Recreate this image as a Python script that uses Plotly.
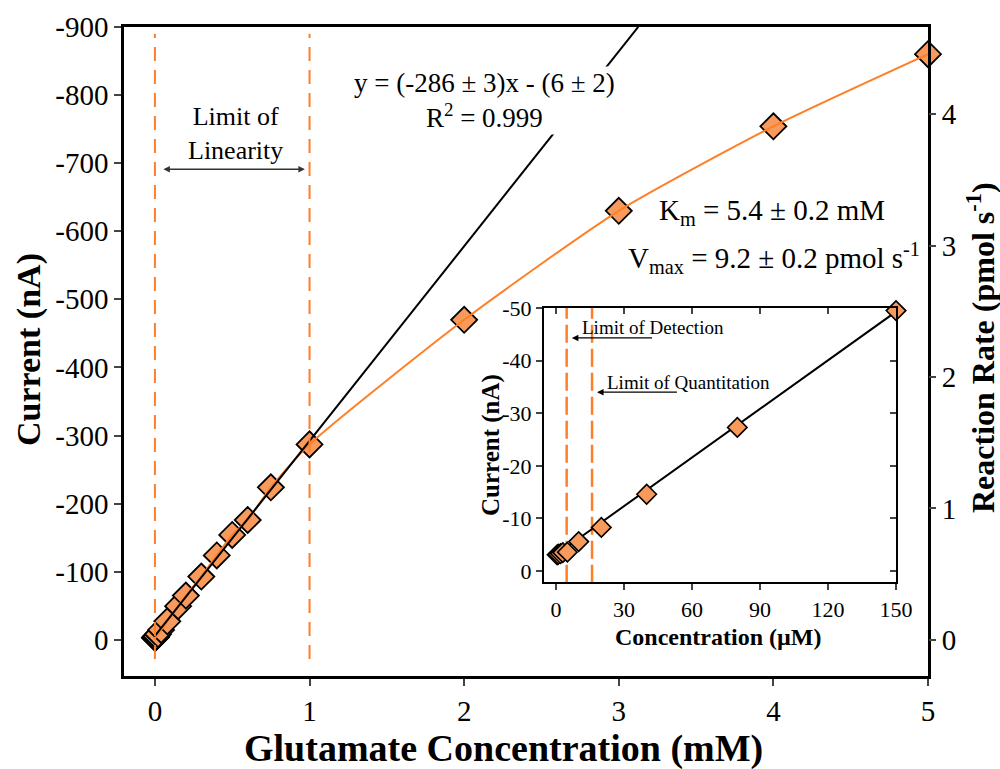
import plotly.graph_objects as go

# ---------------- data ----------------
conc_mM = [0.0005, 0.001, 0.002, 0.003, 0.005, 0.01, 0.02, 0.04, 0.08, 0.15,
           0.2, 0.3, 0.4, 0.5, 0.6, 0.75, 1, 2, 3, 4, 5]
current_nA = [-3.1, -3.2, -3.3, -3.5, -3.6, -5.6, -8.3, -14.6, -27.3, -49.5,
              -65, -93, -124, -154, -176, -224, -287, -470, -630, -754, -860]

inset_conc_uM = [0.5, 1, 2, 3, 5, 10, 20, 40, 80, 150]
inset_current_nA = [-3.1, -3.2, -3.3, -3.5, -3.6, -5.6, -8.3, -14.6, -27.3, -49.5]

lin_slope, lin_intercept = -286, -6          # main linear fit (nA per mM)
inset_slope, inset_intercept = -0.308, -3.1  # inset linear fit (nA per uM)
linearity_limits_mM = [0, 1]
lod_uM, loq_uM = 4.7, 15.9
nA_per_pmol_s = 2 * 96485 / 1000  # n F conversion

x_ticks_main = [0, 1, 2, 3, 4, 5]
y_ticks_main = [0, -100, -200, -300, -400, -500, -600, -700, -800, -900]
y2_ticks = [0, 1, 2, 3, 4]
x_ticks_inset = [0, 30, 60, 90, 120, 150]
y_ticks_inset = [0, -10, -20, -30, -40, -50]

# ---------------- style ----------------
ORANGE = "#FF7F27"
MARK = "#F79A5C"
FONT = "Liberation Serif"
main_yrange = [53, -900]
main_xrange = [-0.2, 5]
inset_xrange = [-5.3, 150]
inset_yrange = [2.1, -50]

fig = go.Figure()

fig.add_trace(go.Scatter(x=conc_mM, y=current_nA, mode="markers",
                         marker=dict(symbol="diamond", size=20, color=MARK,
                                     line=dict(color="black", width=1.8)),
                         xaxis="x", yaxis="y", showlegend=False, cliponaxis=False))
fig.add_trace(go.Scatter(x=[0] + conc_mM, y=[0] + current_nA, mode="lines",
                         line=dict(color=ORANGE, width=2, shape="spline", smoothing=0.6),
                         xaxis="x", yaxis="y", showlegend=False))
x_end = (main_yrange[1] - lin_intercept) / lin_slope
fig.add_trace(go.Scatter(x=[0, x_end], y=[lin_intercept, lin_slope * x_end + lin_intercept],
                         mode="lines", line=dict(color="black", width=2),
                         xaxis="x", yaxis="y", showlegend=False))
for xv in linearity_limits_mM:
    fig.add_trace(go.Scatter(x=[xv, xv], y=[28, -890], mode="lines",
                             line=dict(color=ORANGE, width=2, dash="14px,9px"),
                             xaxis="x", yaxis="y", showlegend=False))
fig.add_trace(go.Scatter(x=[None], y=[None], xaxis="x", yaxis="y2", showlegend=False))

for xv in [lod_uM, loq_uM]:
    fig.add_trace(go.Scatter(x=[xv, xv], y=[2.2, -50.3], mode="lines",
                             line=dict(color=ORANGE, width=2.5, dash="18px,6px"),
                             xaxis="x3", yaxis="y3", showlegend=False))
fig.add_trace(go.Scatter(x=[0, 150], y=[inset_intercept, inset_intercept + inset_slope * 150],
                         mode="lines", line=dict(color="black", width=2),
                         xaxis="x3", yaxis="y3", showlegend=False))
fig.add_trace(go.Scatter(x=inset_conc_uM, y=inset_current_nA, mode="markers",
                         marker=dict(symbol="diamond", size=15, color=MARK,
                                     line=dict(color="black", width=1.6)),
                         xaxis="x3", yaxis="y3", showlegend=False, cliponaxis=False))
fig.add_trace(go.Scatter(x=[None], y=[None], xaxis="x4", yaxis="y3", showlegend=False))
fig.add_trace(go.Scatter(x=[None], y=[None], xaxis="x3", yaxis="y4", showlegend=False))

tick_main = dict(family=FONT, size=29, color="black")
tick_inset = dict(family=FONT, size=22, color="black")

common = dict(showgrid=False, zeroline=False, automargin=False)
fig.update_layout(
    width=1000, height=769,
    margin=dict(l=0, r=0, t=0, b=0, pad=0),
    paper_bgcolor="white", plot_bgcolor="white",
    font=dict(family=FONT, color="black"),
    xaxis=dict(domain=[0.124, 0.928], range=main_xrange, tickvals=x_ticks_main,
               ticks="outside", ticklen=7, tickwidth=2, showline=True, linewidth=2.5,
               linecolor="black", mirror=True, tickfont=tick_main, anchor="y", **common),
    yaxis=dict(domain=[0.121, 0.965], range=main_yrange, tickvals=y_ticks_main,
               ticktext=[str(v) for v in y_ticks_main],
               ticks="outside", ticklen=7, tickwidth=2, showline=True, linewidth=2.5,
               linecolor="black", mirror=True, tickfont=tick_main, anchor="x", **common),
    yaxis2=dict(overlaying="y", side="right", anchor="x",
                range=[-main_yrange[0] / nA_per_pmol_s, -main_yrange[1] / nA_per_pmol_s],
                tickvals=y2_ticks, ticks="outside", ticklen=7, tickwidth=2,
                showline=False, tickfont=tick_main, **common),
    xaxis3=dict(domain=[0.544, 0.896], range=inset_xrange, tickvals=x_ticks_inset,
                ticks="outside", ticklen=6, tickwidth=1.8, showline=True, linewidth=2,
                linecolor="black", mirror=True, tickfont=tick_inset, anchor="y3", **common),
    yaxis3=dict(domain=[0.243, 0.5995], range=inset_yrange, tickvals=y_ticks_inset,
                ticktext=[str(v) for v in y_ticks_inset],
                ticks="outside", ticklen=6, tickwidth=1.8, showline=True, linewidth=2,
                linecolor="black", mirror=True, tickfont=tick_inset, anchor="x3", **common),
    xaxis4=dict(overlaying="x3", side="top", anchor="y3", range=inset_xrange,
                tickvals=x_ticks_inset, ticks="inside", ticklen=6, tickwidth=1.5,
                showticklabels=False, showline=False, **common),
    yaxis4=dict(overlaying="y3", side="right", anchor="x3", range=inset_yrange,
                tickvals=y_ticks_inset, ticks="inside", ticklen=6, tickwidth=1.5,
                showticklabels=False, showline=False, **common),
)


def px(xp, yp):
    return dict(x=xp / 1000, y=1 - yp / 769, xref="paper", yref="paper",
                xanchor="center", yanchor="middle", showarrow=False)


ann = []
ann.append(dict(text="<b>Glutamate Concentration (mM)</b>", font=dict(size=38), **px(503, 748)))
ann.append(dict(text="<b>Current (nA)</b>", textangle=-90, font=dict(size=34), **px(29, 350)))
ann.append(dict(text="<b>Reaction Rate (pmol s<sup>-1</sup>)</b>", textangle=-90,
                font=dict(size=32), **px(981, 348)))
ann.append(dict(text="y = (-286 ± 3)x - (6 ± 2)<br>R<sup>2</sup> = 0.999", bgcolor="white",
                font=dict(size=27), **px(484, 100)))
ann.append(dict(text="Limit of<br>Linearity", font=dict(size=26), **px(235, 133)))
ann.append(dict(text="", x=0.97, y=-691, ax=0.045, ay=-691, xref="x", yref="y",
                axref="x", ayref="y", showarrow=True, arrowhead=2, arrowside="end+start",
                arrowsize=1, arrowwidth=1.3, arrowcolor="#333333"))
ann.append(dict(text="K<sub>m</sub> = 5.4 ± 0.2 mM", font=dict(size=29), **px(772, 212)))
ann.append(dict(text="V<sub>max</sub> = 9.2 ± 0.2 pmol s<sup>-1</sup>", font=dict(size=29),
                **px(774, 258)))
ann.append(dict(text="<b>Concentration (µM)</b>", font=dict(size=24), **px(718, 637)))
ann.append(dict(text="<b>Current (nA)</b>", textangle=-90, font=dict(size=25), **px(491, 445)))
ann.append(dict(text="Limit of Detection", font=dict(size=19), **px(653, 327)))
ann.append(dict(text="", x=7.0, y=-44.3, ax=43, ay=-44.3, xref="x3", yref="y3",
                axref="x3", ayref="y3", showarrow=True, arrowhead=2, arrowsize=1,
                arrowwidth=1.3, arrowcolor="black"))
ann.append(dict(text="Limit of Quantitation", font=dict(size=19), **px(688, 382)))
ann.append(dict(text="", x=18.1, y=-34.0, ax=54, ay=-34.0, xref="x3", yref="y3",
                axref="x3", ayref="y3", showarrow=True, arrowhead=2, arrowsize=1,
                arrowwidth=1.3, arrowcolor="black"))
fig.update_layout(annotations=ann)

fig.write_html("out.html")
